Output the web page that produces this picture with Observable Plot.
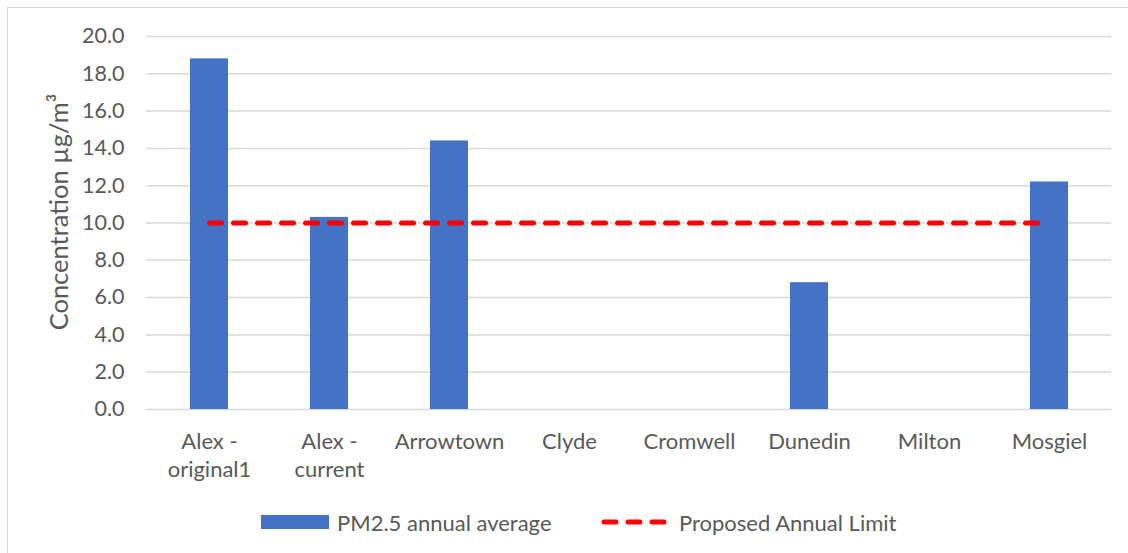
<!DOCTYPE html>
<html>
<head>
<meta charset="utf-8">
<script src="https://cdn.jsdelivr.net/npm/d3@7"></script>
<script src="https://cdn.jsdelivr.net/npm/@observablehq/plot@0.6"></script>
<style>
  html, body { margin: 0; padding: 0; background: #fff; }
  #wrap { position: relative; width: 1128px; height: 553px; overflow: hidden; font-family: Lato, "Open Sans", sans-serif; color: #595959; }
  #frame { position: absolute; left: 7px; top: 7px; width: 1200px; height: 600px; border-left: 1.5px solid #d9d9d9; border-top: 1.5px solid #d9d9d9; }
  #chart { position: absolute; left: 0; top: 0; }
  .leg { position: absolute; top: 507px; height: 30px; display: flex; align-items: center; font-size: 22px; white-space: nowrap; }
  .sw-bar { width: 68px; height: 14px; background: #4472c4; margin-right: 8px; }
</style>
</head>
<body>
<div id="wrap">
  <div id="frame"></div>
  <div id="chart"></div>
  <div class="leg" style="left:261px"><div class="sw-bar"></div><span id="lab1"></span></div>
  <div class="leg" style="left:601px"><svg width="70" height="14" style="margin-right:8px"><line x1="3" x2="67" y1="7" y2="7" stroke="#ff0000" stroke-width="5" stroke-dasharray="12,12" stroke-linecap="round"/></svg><span id="lab2"></span></div>
</div>
<script>
const categories = ["Alex -\noriginal1", "Alex -\ncurrent", "Arrowtown", "Clyde", "Cromwell", "Dunedin", "Milton", "Mosgiel"];
const pm25 = [18.8, 10.3, 14.4, null, null, 6.8, null, 12.2];
const limit = [10, 10, 10, 10, 10, 10, 10, 10];
const yTicks = [0, 2, 4, 6, 8, 10, 12, 14, 16, 18, 20];
const seriesNames = ["PM2.5 annual average", "Proposed Annual Limit"];
const yTitle = "Concentration µg/m³";

document.getElementById("lab1").textContent = seriesNames[0];
document.getElementById("lab2").textContent = seriesNames[1];

const bars = categories.map((c, i) => ({cat: c, v: pm25[i]})).filter(d => d.v != null);
const lim = categories.map((c, i) => ({cat: c, v: limit[i]}));

const chart = Plot.plot({
  width: 1128,
  height: 495,
  marginLeft: 146,
  marginRight: 17,
  marginTop: 36,
  marginBottom: 86,
  style: {fontFamily: "Lato, 'Open Sans', sans-serif", fontSize: "22px", color: "#595959", background: "transparent"},
  x: {domain: categories, type: "band", paddingInner: 0.685, paddingOuter: 0.3425, label: null},
  y: {domain: [0, 20], label: null},
  marks: [
    Plot.ruleY(yTicks, {stroke: "#d9d9d9", strokeWidth: 1.5, strokeOpacity: 1}),
    Plot.barY(bars, {x: "cat", y: "v", fill: "#4472c4"}),
    Plot.line(lim, {x: "cat", y: "v", stroke: "#ff0000", strokeWidth: 5, strokeDasharray: "12,12", strokeLinecap: "round"}),
    Plot.axisY({ticks: yTicks, tickFormat: d => d.toFixed(1), tickSize: 0, tickPadding: 22, label: null, fill: "#595959", fontSize: 21.5}),
    Plot.axisX({tickSize: 0, tickPadding: 19, label: null, fill: "#595959", fontSize: 22, lineHeight: 1.28}),
    Plot.text([yTitle], {frameAnchor: "left", dx: -87, dy: -11, rotate: -90, textAnchor: "middle", fill: "#595959", fontSize: 25.5})
  ]
});
document.getElementById("chart").appendChild(chart);
</script>
</body>
</html>
